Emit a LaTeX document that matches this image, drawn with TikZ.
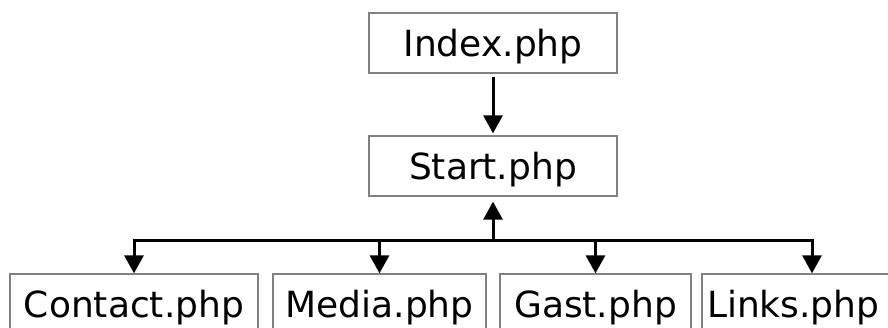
\documentclass[tikz,border=0pt]{standalone}
\usepackage{fontspec}
\setmainfont{DejaVu Sans}
\usetikzlibrary{arrows.meta}
\tikzset{
  page/.style={draw=black!50, line width=1.3bp, minimum height=60bp, inner sep=0pt,
    text height=26bp, text depth=0pt, font=\fontsize{36bp}{40bp}\selectfont},
  arr/.style={draw=black, line width=3bp, -{Triangle[length=18bp,width=19bp]}},
}
\begin{document}
\begin{tikzpicture}[x=1bp,y=-1bp]
\useasboundingbox (0,0) rectangle (888,327);
\fill[white] (0,0) rectangle (888,327);
\clip (0,0) rectangle (888,327);
\node[page, minimum width=248bp] (index) at (493,43) {Index.php};
\node[page, minimum width=248bp] (start) at (493,166) {Start.php};
\node[page, minimum width=248bp] (contact) at (134,304) {Contact.php};
\node[page, minimum width=213bp] (media) at (379.5,304) {Media.php};
\node[page, minimum width=191bp] (gast) at (595.5,304) {Gast.php};
\node[page, minimum width=220bp, text width=210bp, align=left] (links) at (812,304) {Links.php};
\coordinate (bus) at (493,240);
\draw[arr, shorten <=3bp, shorten >=2bp] (index) -- (start);
\draw[arr, shorten >=5bp] (bus) -- (start);
\draw[arr] (bus) -| (contact.north);
\draw[arr] (bus) -| (links.north);
\draw[arr] (media.north |- bus) -- (media.north);
\draw[arr] (gast.north |- bus) -- (gast.north);
\end{tikzpicture}
\end{document}
